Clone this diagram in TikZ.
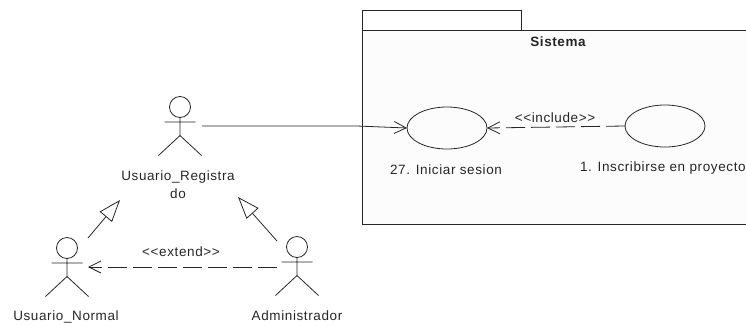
\documentclass[tikz,border=0pt]{standalone}
\usepackage{fontspec}
\setmainfont[LetterSpace=4.5]{Liberation Sans}
\usetikzlibrary{arrows.meta,shapes.geometric}
\definecolor{ink}{HTML}{262626}
\tikzset{
  x=1pt,y=-1pt,
  every node/.style={inner sep=0pt,outer sep=0pt,text=ink,font=\fontsize{13.5}{18}\selectfont},
  line/.style={draw=ink,line width=0.8pt},
  usecase/.style={ellipse,line,minimum width=80pt,minimum height=42pt},
  head/.style={circle,line,minimum size=21pt},
  barb/.style={-{Straight Barb[length=12pt,width=12pt,line width=0.8pt]}},
  gen/.style={-{Triangle[open,fill=white,length=22pt,width=16pt,line width=0.8pt]}},
  dep/.style={dash pattern=on 19pt off 6pt},
  actor/.pic={
    \draw[line] (0,10.5) -- (0,28.5) (-15.5,15) -- (15.5,15) (0,28.5) -- (-21.5,48.5) (0,28.5) -- (21.5,48.5);
  }
}
\begin{document}
\begin{tikzpicture}
\useasboundingbox (0,0) rectangle (746,325);
% package
\fill[fill=black!1] (362,30) rectangle (746,224);
\draw[line] (362,30) -- (362,10) -- (521,10) -- (521,30);
\draw[line] (746,30) -- (362,30) -- (362,224) -- (746,224);
\node[font=\fontsize{13.5}{18}\selectfont\bfseries] (sistema) at (558,42) {Sistema};
% actors
\node[head] (ur) at (180,107) {};
\pic at (180,107) {actor};
\node[head] (un) at (67,248) {};
\pic at (67,248) {actor};
\node[head] (ad) at (297,247) {};
\pic at (297,247) {actor};
\node[align=center] (urlabel) at (178,185) {Usuario\_Registra\\do};
\node (unlabel) at (66,317) {Usuario\_Normal};
\node (adlabel) at (297,316) {Administrador};
% use cases
\node[usecase] (uc27) at (447,128) {};
\node[usecase] (uc1) at (665,126) {};
\node (uc27label) at (446,170) {27. Iniciar sesion};
\node[anchor=west] (uc1label) at (580,168) {1. Inscribirse en proyecto};
% connector end points
\coordinate (urout) at (202,126);
\coordinate (unin) at (88,267);
\coordinate (adout) at (277,267);
\coordinate (ungenfrom) at (88,238);
\coordinate (ungento) at (120,200);
\coordinate (adgenfrom) at (277,241);
\coordinate (adgento) at (238,197);
% connectors
\draw[line,barb] (urout) -- (357,126) -- (uc27.west);
\draw[line,dep,barb] (uc1.west) -- (uc27.east);
\draw[line,dep,barb] (adout) -- (unin);
\draw[line,gen] (ungenfrom) -- (ungento);
\draw[line,gen] (adgenfrom) -- (adgento);
% labels
\node (inc) at (555,118) {<{}<include>{}>};
\node (ext) at (181,252) {<{}<extend>{}>};
\end{tikzpicture}
\end{document}
